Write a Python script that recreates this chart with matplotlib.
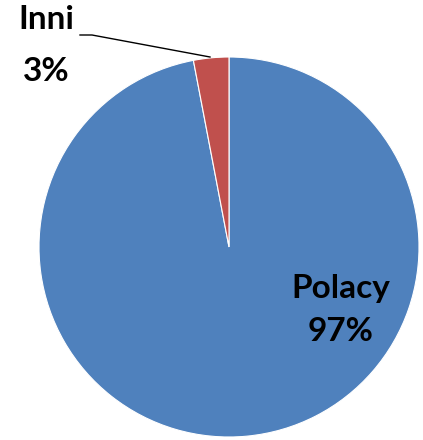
import matplotlib
matplotlib.use("Agg")
from matplotlib import pyplot as plt

# data
labels = ["Polacy", "Inni"]
shares = [97, 3]
colors = ["#4F81BD", "#C0504D"]

fig = plt.figure(figsize=(4.23, 4.40), dpi=100)
ax = fig.add_axes([0, 0, 1, 1])

# pie in pixel-like coordinates (y measured from bottom)
ax.pie(shares, colors=colors, startangle=90, counterclock=False,
       center=(229, 193), radius=190,
       wedgeprops=dict(edgecolor="white", linewidth=0.8))

ax.set_xlim(0, 423)
ax.set_ylim(0, 440)
ax.set_aspect("equal")
ax.axis("off")

font = dict(fontsize=24, fontweight="bold", family=["Lato", "DejaVu Sans"],
            ha="center", va="center", color="black")

# Polacy label inside the big slice
ax.text(341, 152, labels[0], **font)
ax.text(341, 109, f"{shares[0]}%", **font)

# Inni label outside with leader line
ax.text(46, 421, labels[1], **font)
ax.text(46, 369, f"{shares[1]}%", **font)
ax.plot([80, 92, 210], [405, 405, 383], color="black", linewidth=1)

fig.savefig("out.png", dpi=100)
